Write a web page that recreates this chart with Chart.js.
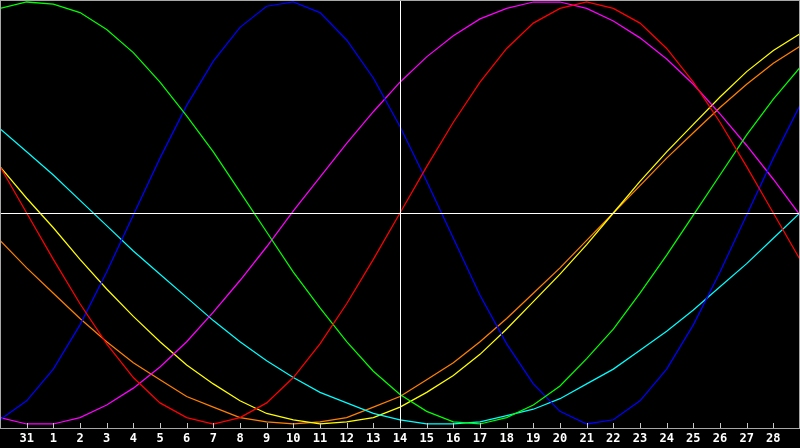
<!DOCTYPE html>
<html>
<head>
<meta charset="utf-8">
<script src="https://cdn.jsdelivr.net/npm/chart.js@4"></script>
<style>
  html, body { margin: 0; padding: 0; background: #000; }
  #chart { display: block; }
</style>
</head>
<body>
<canvas id="chart" width="800" height="448"></canvas>
<script>
// day labels, first and last sit on the frame edges and are not printed
const days = ['30', '31', '1', '2', '3', '4', '5', '6', '7', '8', '9', '10', '11', '12', '13', '14',
  '15', '16', '17', '18', '19', '20', '21', '22', '23', '24', '25', '26', '27', '28', '1'];

// which day gets the white marker line
const todayIndex = 15;

// cycles, -1 .. 1
const emotional = [0.22, 0, -0.22, -0.43, -0.62, -0.78, -0.90, -0.97, -1.00, -0.97, -0.90, -0.78, -0.62, -0.43, -0.22, 0,
  0.22, 0.43, 0.62, 0.78, 0.90, 0.97, 1.00, 0.97, 0.90, 0.78, 0.62, 0.43, 0.22, 0, -0.22];
const intellectual = [0.97, 1.00, 0.99, 0.95, 0.87, 0.76, 0.62, 0.46, 0.29, 0.10, -0.09, -0.28, -0.45, -0.61, -0.75, -0.86,
  -0.94, -0.99, -1.00, -0.97, -0.91, -0.82, -0.69, -0.55, -0.38, -0.20, -0.01, 0.18, 0.37, 0.54, 0.69];
const physical = [-0.98, -0.89, -0.74, -0.53, -0.28, -0.01, 0.26, 0.51, 0.72, 0.88, 0.98, 1.00, 0.95, 0.82, 0.64, 0.41,
  0.15, -0.12, -0.39, -0.62, -0.81, -0.94, -1.00, -0.98, -0.89, -0.74, -0.53, -0.28, -0.01, 0.26, 0.51];
const intuitive = [-0.97, -1.00, -1.00, -0.97, -0.91, -0.83, -0.73, -0.61, -0.47, -0.32, -0.16, 0.01, 0.17, 0.33, 0.48, 0.62,
  0.74, 0.84, 0.92, 0.97, 1.00, 1.00, 0.97, 0.91, 0.83, 0.73, 0.61, 0.47, 0.32, 0.16, -0.01];
const spiritual = [0.40, 0.29, 0.18, 0.06, -0.06, -0.18, -0.29, -0.40, -0.51, -0.61, -0.70, -0.78, -0.85, -0.90, -0.95, -0.98,
  -1.00, -1.00, -0.99, -0.96, -0.93, -0.88, -0.81, -0.74, -0.65, -0.56, -0.46, -0.35, -0.24, -0.12, 0];
const aesthetic = [0.22, 0.07, -0.07, -0.22, -0.36, -0.49, -0.61, -0.72, -0.81, -0.89, -0.95, -0.98, -1.00, -0.99, -0.97, -0.92,
  -0.85, -0.77, -0.67, -0.55, -0.42, -0.29, -0.15, 0, 0.15, 0.29, 0.42, 0.55, 0.67, 0.77, 0.85];
const awareness = [-0.13, -0.26, -0.38, -0.50, -0.61, -0.71, -0.79, -0.87, -0.92, -0.97, -0.99, -1.00, -0.99, -0.97, -0.92, -0.87,
  -0.79, -0.71, -0.61, -0.50, -0.38, -0.26, -0.13, 0, 0.13, 0.26, 0.38, 0.50, 0.61, 0.71, 0.79];

const line = function (label, data, color) {
    return { label: label, data: data, borderColor: color, borderWidth: 1.25, pointRadius: 0, tension: 0, fill: false };
};

// frame, today marker, zero line and the little tick marks
const framePlugin = {
    id: 'frame',
    afterDatasetsDraw(chart) {
        const ctx = chart.ctx;
        const area = chart.chartArea;
        const x = chart.scales.x;
        const y = chart.scales.y;
        ctx.save();
        ctx.lineWidth = 1;

        ctx.strokeStyle = '#ffffff';
        const zy = Math.round(y.getPixelForValue(0)) + 0.5;
        ctx.beginPath();
        ctx.moveTo(area.left, zy);
        ctx.lineTo(area.right, zy);
        const tx = Math.round(x.getPixelForValue(todayIndex)) + 0.5;
        ctx.moveTo(tx, area.top);
        ctx.lineTo(tx, area.bottom);
        ctx.stroke();

        ctx.strokeStyle = '#c8c8c8';
        ctx.beginPath();
        for (let i = 1; i < days.length - 1; i++) {
            const px = Math.round(x.getPixelForValue(i)) + 0.5;
            ctx.moveTo(px, area.bottom - 5);
            ctx.lineTo(px, area.bottom);
        }
        ctx.stroke();

        ctx.strokeStyle = '#a8a8a8';
        ctx.strokeRect(area.left + 0.5, area.top + 0.5, area.right - area.left - 1, area.bottom - area.top);
        ctx.restore();
    }
};

new Chart(document.getElementById('chart'), {
    type: 'line',
    data: {
        labels: days,
        datasets: [
            line('Emotional', emotional, '#ff0000'),
            line('Intellectual', intellectual, '#00ff00'),
            line('Physical', physical, '#0000ff'),
            line('Intuitive', intuitive, '#ff00ff'),
            line('Spiritual', spiritual, '#00ffff'),
            line('Aesthetic', aesthetic, '#ffff00'),
            line('Awareness', awareness, '#ff8000')
        ]
    },
    options: {
        responsive: false,
        devicePixelRatio: 1,
        animation: false,
        layout: { padding: 0, autoPadding: false },
        plugins: {
            legend: { display: false },
            tooltip: { enabled: false }
        },
        scales: {
            x: {
                offset: false,
                grid: { display: false, drawTicks: false },
                border: { display: false },
                ticks: {
                    color: '#ffffff',
                    font: { family: 'DejaVu Sans Mono', weight: 'bold', size: 12 },
                    autoSkip: false,
                    maxRotation: 0,
                    padding: 4,
                    callback: function (value, index) {
                        if (index === 0 || index === days.length - 1) return '';
                        return days[index];
                    }
                },
                afterFit: function (scale) {
                    scale.height = 20;
                    scale.paddingLeft = 0;
                    scale.paddingRight = 0;
                }
            },
            y: {
                display: false,
                min: -1.019,
                max: 1.0095
            }
        }
    },
    plugins: [framePlugin]
});
</script>
</body>
</html>
